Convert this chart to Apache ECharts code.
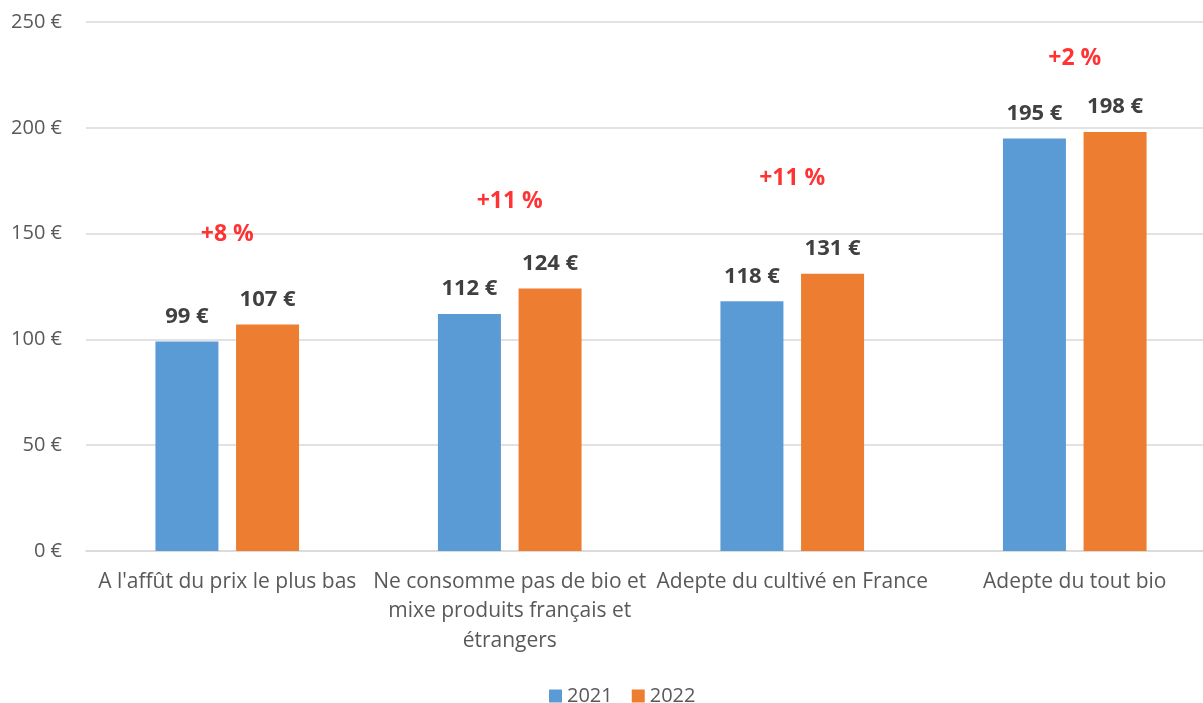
<!DOCTYPE html>
<html>
<head>
<meta charset="utf-8">
<script src="https://cdn.jsdelivr.net/npm/echarts@6/dist/echarts.min.js"></script>
<style>html,body{margin:0;padding:0;background:#fff;}#c{width:1203px;height:703px;}</style>
</head>
<body>
<div id="c"></div>
<script>
const categories = [
  "A l'affût du prix le plus bas",
  "Ne consomme pas de bio et\nmixe produits français et\nétrangers",
  "Adepte du cultivé en France",
  "Adepte du tout bio"
];
const values2021 = [99, 112, 118, 195];
const values2022 = [107, 124, 131, 198];
const changeLabels = ["+8 %", "+11 %", "+11 %", "+2 %"];
const changeLevels = [149.5, 165, 176, 233];
const yTicks = [0, 50, 100, 150, 200, 250];

const FONT = 'Open Sans';
const chart = echarts.init(document.getElementById('c'), null, {renderer: 'canvas'});
const valueLabel = {
  show: true, position: 'top', distance: 14,
  fontFamily: FONT, fontWeight: 'bold', fontSize: 22, color: '#404040',
  formatter: p => p.value + ' €'
};
chart.setOption({
  animation: false,
  backgroundColor: '#fff',
  grid: {left: 86, width: 1130, top: 22, height: 529, containLabel: false, outerBoundsMode: 'none'},
  legend: {
    data: ['2021', '2022'], left: 544, top: 681,
    icon: 'rect', itemWidth: 13, itemHeight: 13, itemGap: 19,
    textStyle: {fontFamily: FONT, fontSize: 20, color: '#595959'}
  },
  xAxis: {
    type: 'category', data: categories,
    axisLine: {lineStyle: {color: '#d9d9d9', width: 1.5}},
    axisTick: {show: false},
    axisLabel: {interval: 0, fontFamily: FONT, fontSize: 21, color: '#595959', lineHeight: 29.5, margin: 16}
  },
  yAxis: {
    type: 'value', min: yTicks[0], max: yTicks[yTicks.length - 1], interval: 50,
    axisLine: {show: false}, axisTick: {show: false},
    splitLine: {lineStyle: {color: '#d9d9d9', width: 1.5}},
    axisLabel: {fontFamily: FONT, fontSize: 20, color: '#595959', margin: 24, formatter: v => v + ' €'}
  },
  series: [
    {name: '2021', type: 'bar', data: values2021, barWidth: 63, barGap: '28%',
     itemStyle: {color: '#5b9bd5'}, label: valueLabel},
    {name: '2022', type: 'bar', data: values2022, barWidth: 63,
     itemStyle: {color: '#ed7d31'}, label: valueLabel},
    {name: 'variation', type: 'scatter', symbolSize: 0, silent: true,
     data: changeLevels.map((v, i) => ({value: v, label: {formatter: changeLabels[i]}})),
     label: {show: true, position: 'inside', fontFamily: FONT, fontWeight: 'bold', fontSize: 23, color: '#ff0000'}}
  ]
});
</script>
</body>
</html>
